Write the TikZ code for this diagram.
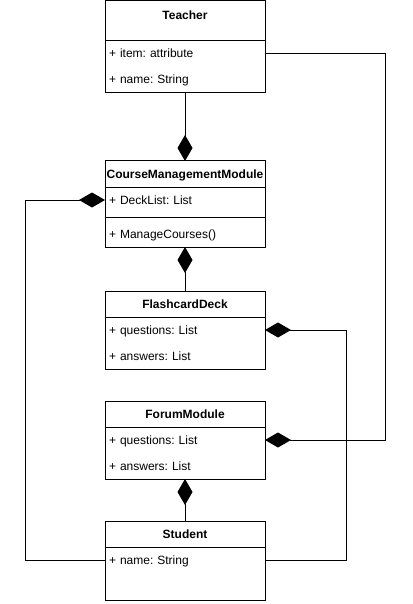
\documentclass[tikz,border=0pt]{standalone}
\usepackage{fontspec}
\setmainfont{Liberation Sans}
\frenchspacing
\usetikzlibrary{arrows.meta,positioning}
\tikzset{
  cls/.style={draw,line width=1pt,anchor=north,outer sep=0pt,inner xsep=4pt,inner ysep=0pt,text width=152pt,font=\fontsize{12}{26}\selectfont},
  hd/.style={cls,align=center,inner xsep=0pt,text width=160pt,font=\fontsize{12}{26}\selectfont\bfseries,text height=17.3pt,text depth=8.7pt},
  fld/.style={cls,align=left},
  cmp/.style={line width=1pt,{Diamond[length=26pt,width=15pt]}-}
}
\begin{document}
\begin{tikzpicture}[x=1pt,y=1pt]
\useasboundingbox (0,0) rectangle (412,-604);
\node[hd,text height=18.3pt,text depth=21.7pt] (teacher) at (185,-1) {Teacher};
\node[fld,below=0pt of teacher,minimum height=52pt] (teacher-attr) {+ item: attribute\\+ name: String};
\node[hd] (cmm) at (185,-161) {CourseManagementModule};
\node[fld,below=0pt of cmm,text height=17.3pt,text depth=12.7pt] (cmm-attr) {+ DeckList: List};
\node[fld,below=0pt of cmm-attr,text height=21.3pt,text depth=8.7pt] (cmm-ops) {+ ManageCourses()};
\node[hd] (deck) at (185,-291) {FlashcardDeck};
\node[fld,below=0pt of deck,minimum height=52pt] (deck-attr) {+ questions: List\\+ answers: List};
\node[hd] (forum) at (185,-401) {ForumModule};
\node[fld,below=0pt of forum,minimum height=52pt] (forum-attr) {+ questions: List\\+ answers: List};
\node[hd] (student) at (185,-521) {Student};
\node[fld,below=0pt of student,text height=17.3pt,text depth=35.7pt] (student-attr) {+ name: String};
\draw[cmp] (cmm.north) -- (teacher-attr.south);
\draw[cmp] (cmm-ops.south) -- (deck.north);
\draw[cmp] (forum-attr.south) -- (student.north);
\draw[cmp] ([yshift=-13pt]cmm-attr.north west) -- ++(-80,0) |- ([yshift=-13pt]student-attr.north west);
\draw[cmp] ([yshift=-13pt]deck-attr.north east) -- ++(81,0) |- ([yshift=-13pt]student-attr.north east);
\draw[cmp] ([yshift=-13pt]forum-attr.north east) -- ++(120,0) |- ([yshift=-13pt]teacher-attr.north east);
\end{tikzpicture}
\end{document}
